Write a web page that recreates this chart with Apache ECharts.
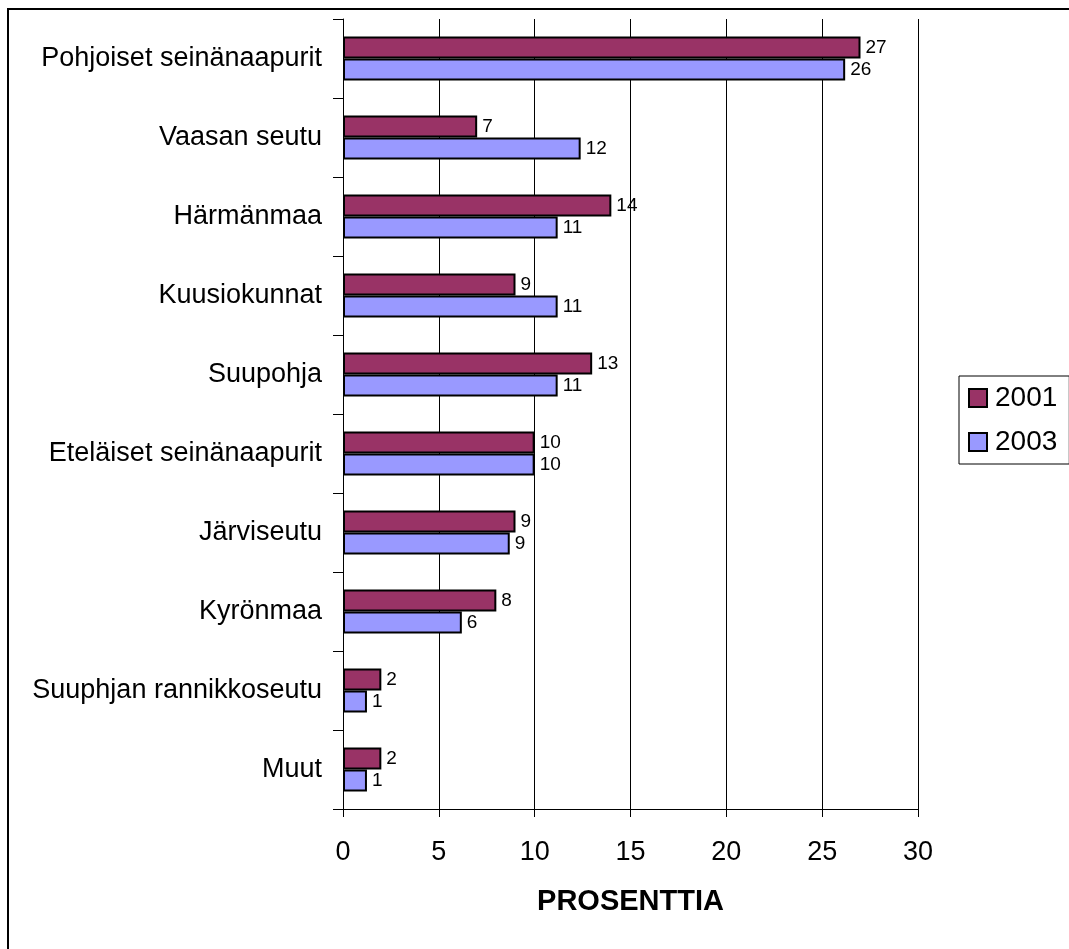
<!DOCTYPE html>
<html>
<head>
<meta charset="utf-8">
<script src="https://cdn.jsdelivr.net/npm/echarts@6/dist/echarts.min.js"></script>
<style>
  html, body { margin: 0; padding: 0; background: #fff; }
  #chart { width: 1069px; height: 949px; }
</style>
</head>
<body>
<div id="chart"></div>
<script>
// alueet ylhaalta alas
var categories = ['Pohjoiset seinänaapurit', 'Vaasan seutu', 'Härmänmaa', 'Kuusiokunnat', 'Suupohja',
  'Eteläiset seinänaapurit', 'Järviseutu', 'Kyrönmaa', 'Suuphjan rannikkoseutu', 'Muut']
var values2001 = [27, 7, 14, 9, 13, 10, 9, 8, 2, 2]
var values2003 = [26.2, 12.4, 11.2, 11.2, 11.2, 10, 8.7, 6.2, 1.25, 1.25]
var xTicks = [0, 5, 10, 15, 20, 25, 30]

var font = 'Liberation Sans, Arial, sans-serif'

var barLabel = {
    show: true,
    position: 'right',
    distance: 5,
    fontSize: 19,
    fontFamily: font,
    color: '#000',
    formatter: function (p) { return Math.round(p.value) }
}

var chart = echarts.init(document.getElementById('chart'))
chart.setOption({
    backgroundColor: '#fff',
    animation: false,
    graphic: [{
        type: 'rect',
        shape: { x: 8, y: 9, width: 1100, height: 1000 },
        style: { fill: 'none', stroke: '#000', lineWidth: 2 },
        silent: true
    }],
    grid: { left: 343, right: 151, top: 19, bottom: 140 },
    legend: {
        orient: 'vertical',
        left: 959,
        top: 376,
        padding: [8, 12, 8, 9],
        borderColor: '#000',
        borderWidth: 1,
        itemWidth: 18,
        itemHeight: 18,
        itemGap: 16,
        icon: 'rect',
        textStyle: { fontSize: 28, fontFamily: font, color: '#000', padding: [0, 0, 0, 3] },
        data: ['2001', '2003']
    },
    xAxis: {
        type: 'value',
        min: xTicks[0],
        max: xTicks[xTicks.length - 1],
        interval: 5,
        name: 'PROSENTTIA',
        nameLocation: 'middle',
        nameGap: 78,
        nameTextStyle: { fontSize: 29, fontWeight: 'bold', fontFamily: font, color: '#000' },
        axisLine: { show: true, lineStyle: { color: '#000', width: 1 } },
        axisTick: { show: true, inside: false, length: 8, lineStyle: { color: '#000' } },
        axisLabel: { fontSize: 27, fontFamily: font, color: '#000', margin: 30 },
        splitLine: { show: true, lineStyle: { color: '#000', width: 1 } }
    },
    yAxis: {
        type: 'category',
        inverse: true,
        data: categories,
        axisLine: { show: true, lineStyle: { color: '#000', width: 1 } },
        axisTick: { show: true, inside: false, length: 10, lineStyle: { color: '#000' } },
        axisLabel: { fontSize: 27, fontFamily: font, color: '#000', margin: 21 }
    },
    series: [
        {
            name: '2001',
            type: 'bar',
            data: values2001,
            barGap: '0%',
            barCategoryGap: '44%',
            itemStyle: { color: '#993366', borderColor: '#000', borderWidth: 2 },
            label: barLabel
        },
        {
            name: '2003',
            type: 'bar',
            data: values2003,
            itemStyle: { color: '#9999FF', borderColor: '#000', borderWidth: 2 },
            label: barLabel
        }
    ]
})
</script>
</body>
</html>
